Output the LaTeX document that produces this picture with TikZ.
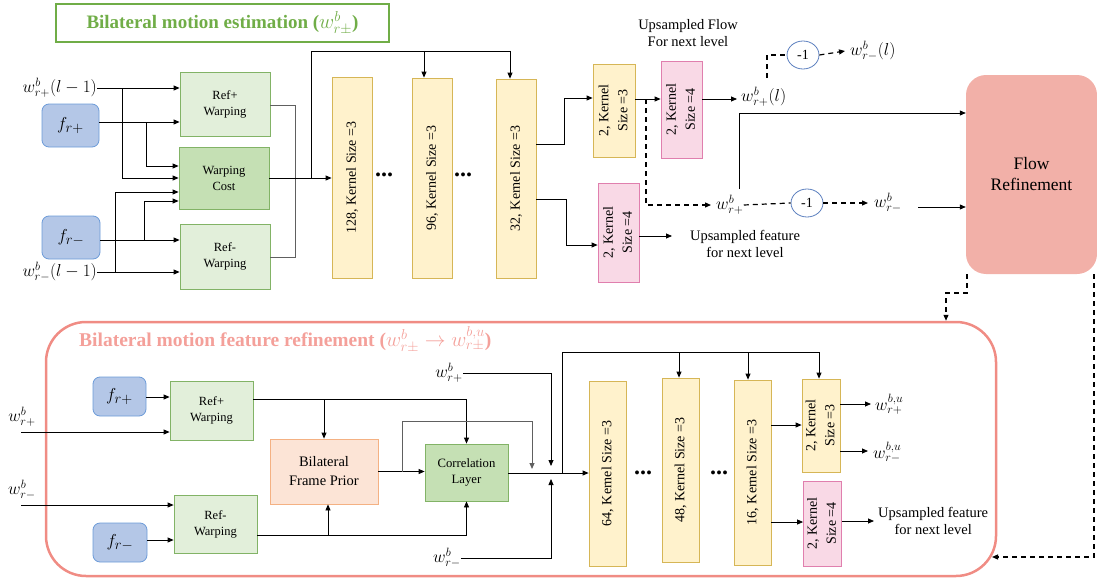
\documentclass[tikz,border=0pt]{standalone}
\usepackage{fontspec}
\setmainfont{Liberation Serif}
\usetikzlibrary{arrows.meta,shapes.geometric}
\definecolor{ttlgreen}{HTML}{70AD47}
\definecolor{blf}{HTML}{B4C7E7}
\definecolor{bld}{HTML}{6C9BD8}
\definecolor{lgf}{HTML}{E2EFDA}
\definecolor{lgd}{HTML}{82B366}
\definecolor{dgf}{HTML}{C5E0B4}
\definecolor{cvf}{HTML}{FFF2CC}
\definecolor{cvd}{HTML}{D6B656}
\definecolor{pkf}{HTML}{F9D9E6}
\definecolor{pkd}{HTML}{E07FAE}
\definecolor{frf}{HTML}{F2B0A8}
\definecolor{bff}{HTML}{FCE4D6}
\definecolor{bfd}{HTML}{F4B183}
\definecolor{rbox}{HTML}{F08C84}
\definecolor{rtxt}{HTML}{F4A09A}
\definecolor{cird}{HTML}{5B7FBF}
\definecolor{lgray}{HTML}{606060}
\newcommand\rottext[1]{\rotatebox{90}{\begin{tabular}{@{}c@{}}#1\end{tabular}}}
\newcommand\bigmath[1]{{\fontsize{20.5}{23}\selectfont$#1$}}
\begin{document}
\begin{tikzpicture}[x=1pt,y=-1pt,
  bx/.style={draw, line width=0.8pt, inner sep=0pt, align=center, font=\fontsize{12.5}{16}\selectfont},
  lgbox/.style={bx, draw=lgd, fill=lgf},
  dgbox/.style={bx, draw=lgd, fill=dgf},
  blbox/.style={bx, draw=bld, fill=blf, rounded corners=7pt, font=\fontsize{19}{21}\selectfont},
  cvbox/.style={bx, draw=cvd, fill=cvf, font=\fontsize{14}{19}\selectfont},
  pkbox/.style={bx, draw=pkd, fill=pkf, font=\fontsize{14}{19}\selectfont},
  mlab/.style={inner sep=0pt, font=\fontsize{17.5}{19}\selectfont},
  note/.style={inner sep=0pt, align=center, font=\fontsize{14.5}{17}\selectfont},
  arr/.style={-{Triangle[length=6pt,width=5pt]}, line width=0.8pt},
  gline/.style={line width=1pt, draw=lgray},
  garr/.style={gline, -{Triangle[length=6pt,width=5pt]}},
  dsh/.style={line width=1.2pt, dash pattern=on 5pt off 4pt},
  dsharr/.style={dsh, -{Triangle[length=6pt,width=5pt]}},
  neg/.style={ellipse, draw=cird, line width=0.8pt, fill=white, minimum width=32pt, minimum height=28pt, inner sep=0pt, font=\fontsize{14}{16}\selectfont},
  dotnode/.style={inner sep=0pt, font=\fontsize{24}{26}\selectfont\bfseries},
]
\useasboundingbox (0,0) rectangle (1097,578);

% ---------------- top: bilateral motion estimation ----------------
\node[draw=ttlgreen, line width=1.2pt, minimum width=333pt, minimum height=38pt, text=ttlgreen, font=\fontsize{19}{22}\selectfont\bfseries] (t1) at (222.5,23) {Bilateral motion estimation (\bigmath{w^b_{r\pm}})};

\node[blbox, minimum width=57pt, minimum height=43pt] (fp1) at (70.5,125.5) {$f_{r+}$};
\node[blbox, minimum width=58pt, minimum height=43pt] (fm1) at (71,237.5) {$f_{r-}$};
\node[lgbox, minimum width=90pt, minimum height=64pt] (rp1) at (225,104) {Ref+\\Warping};
\node[dgbox, minimum width=90pt, minimum height=62pt] (wc) at (224,178) {Warping\\Cost};
\node[lgbox, minimum width=90pt, minimum height=65pt] (rm1) at (225,256.5) {Ref-\\Warping};
\node[mlab, anchor=east] (wl1) at (97,88) {$w^b_{r+}(l-1)$};
\node[mlab, anchor=east] (wl2) at (97,272) {$w^b_{r-}(l-1)$};

\draw[arr] (wl1.east) -- (rp1.west|-wl1.east);
\draw[arr] (fp1.east|-0,122) -- (rp1.west|-0,122);
\draw[arr] (146,122) |- (wc.west|-0,166);
\draw[arr] (122,88) |- (wc.west|-0,178);
\draw[arr] (fm1.east|-0,240) -- (rm1.west|-0,240);
\draw[arr] (144,240) |- (wc.west|-0,201);
\draw[arr] (wl2.east) -- (rm1.west|-wl2.east);
\draw[arr] (115,272) |- (wc.west|-0,192);
\draw[gline] (rp1.east|-0,105) -| (295,257) -- (rm1.east|-0,257);

\node[cvbox, minimum width=40pt, minimum height=201pt] (c128) at (352,177.5) {\rottext{128, Kernel Size =3}};
\node[cvbox, minimum width=40pt, minimum height=200pt] (c96) at (432,178) {\rottext{96, Kernel Size =3}};
\node[cvbox, minimum width=40pt, minimum height=199pt] (c32) at (516,178.5) {\rottext{32, Kernel Size =3}};
\node[dotnode] (d1) at (384,175) {...};
\node[dotnode] (d2) at (463,175) {...};

\draw[arr] (wc.east) -- (c128.west|-wc.east);
\draw (311,178) |- (510,51);
\draw[arr] (424,51) -- (c96.north-|424,0);
\draw[arr] (510,51) -- (c32.north-|510,0);

\node[cvbox, minimum width=42pt, minimum height=93pt] (k1) at (614,110.5) {\rottext{2, Kernel\\Size =3}};
\node[pkbox, minimum width=41pt, minimum height=97pt] (u1) at (681.5,109.5) {\rottext{2, Kernel\\Size =4}};
\node[pkbox, minimum width=41pt, minimum height=99pt] (u2) at (618.5,232.5) {\rottext{2, Kernel\\Size =4}};

\draw[arr] (c32.east|-0,144) -- (564,144) |- (k1.west|-0,98);
\draw[arr] (c32.east|-0,199) -- (566,199) |- (u2.west|-0,245);
\draw[arr] (k1.east|-0,99) -- (u1.west|-0,99);

\node[note] (n1) at (688,33) {Upsampled Flow\\For next level};
\node[note] (n2) at (745,244) {Upsampled feature\\for next level};
\draw[arr] (u2.east|-0,236) -- (672,236);

\node[mlab, anchor=west] (wpl) at (741,97) {$w^b_{r+}(l)$};
\draw[arr] (u1.east|-0,99) -- (737,99);
\node[neg] (c1) at (803,55) {-1};
\node[mlab, anchor=west] (wml) at (850,51) {$w^b_{r-}(l)$};
\draw[dsh] (767,78) |- (c1.west);
\draw[dsharr] (c1.east) -- ([xshift=-5pt]wml.west);

\node[mlab, anchor=west] (wp2) at (716,205) {$w^b_{r+}$};
\node[neg] (c2) at (807,203) {-1};
\node[mlab, anchor=west] (wm2) at (874,203) {$w^b_{r-}$};
\draw[dsharr] (646,99) |- ([xshift=-5pt]wp2.west);
\draw[dsh] (wp2.east) -- (c2.west);
\draw[dsharr] (c2.east) -- ([xshift=-6pt]wm2.west);

\node[fill=frf, rounded corners=20pt, minimum width=131pt, minimum height=199pt, align=center, inner sep=0pt, font=\fontsize{17.5}{21}\selectfont] (fr) at (1031.5,174.5) {Flow\\Refinement};
\draw[arr] (739,189) |- (fr.west|-0,113);
\draw[arr] (918,207) -- (fr.west|-0,207);

% ---------------- bottom: bilateral motion feature refinement ----------------
\node[draw=rbox, line width=2.5pt, rounded corners=40pt, minimum width=950pt, minimum height=254pt, inner sep=0pt] (bb) at (521,449) {};
\node[text=rtxt, font=\fontsize{19.5}{22}\selectfont\bfseries, anchor=west, inner sep=0pt] (t2) at (79,340) {Bilateral motion feature refinement (\bigmath{w^b_{r\pm}\to w^{b,u}_{r\pm}})};

\draw[dsharr] (fr.south-|967,0) |- (946,293) -- (bb.north-|946,0);
\draw[dsharr] (fr.south-|1094,0) -- (1094,557) -- (992,557);

\node[blbox, minimum width=53pt, minimum height=39pt] (fp2) at (119.5,396.5) {$f_{r+}$};
\node[blbox, minimum width=54pt, minimum height=39pt] (fm2) at (120,542.5) {$f_{r-}$};
\node[lgbox, minimum width=83pt, minimum height=59pt] (rp2) at (211.5,410.5) {Ref+\\Warping};
\node[lgbox, minimum width=83pt, minimum height=58pt] (rm2) at (215.5,524) {Ref-\\Warping};
\node[bx, draw=bfd, fill=bff, minimum width=108pt, minimum height=65pt, font=\fontsize{14.5}{19}\selectfont] (bfp) at (324,471.5) {Bilateral\\Frame Prior};
\node[dgbox, minimum width=83pt, minimum height=57pt, font=\fontsize{12.7}{16}\selectfont] (cl) at (466.5,472.5) {Correlation\\Layer};

\node[mlab] (wp3) at (22,417) {$w^b_{r+}$};
\node[mlab] (wm3) at (22,490) {$w^b_{r-}$};
\draw[arr] (21,432) -- (rp2.west|-0,432);
\draw[arr] (21,505) -- (rm2.west|-0,505);
\draw[arr] (fp2.east|-0,397) -- (rp2.west|-0,397);
\draw[arr] (fm2.east|-0,540) -- (rm2.west|-0,540);
\draw[arr] (rp2.east|-0,399) -| (cl.north);
\draw[arr] (324,399) -- (bfp.north);
\draw[arr] (rm2.east|-0,535) -| (cl.south);
\draw[arr] (328,535) -- (bfp.south-|328,0);
\draw[arr] (bfp.east) -- (cl.west|-bfp.east);
\draw[garr] (402,471.5) |- (532,421) -- (532,469);

\node[cvbox, minimum width=37pt, minimum height=185pt] (c64) at (607.5,473.5) {\rottext{64, Kernel Size =3}};
\node[cvbox, minimum width=37pt, minimum height=184pt] (c48) at (680.5,470) {\rottext{48, Kernel Size =3}};
\node[cvbox, minimum width=37pt, minimum height=185pt] (c16) at (752.5,472.5) {\rottext{16, Kernel Size =3}};
\node[dotnode] (d3) at (643,473) {...};
\node[dotnode] (d4) at (719,473) {...};

\draw[arr] (cl.east|-0,473) -- (c64.west|-0,473);
\node[mlab] (wp4) at (449,373) {$w^b_{r+}$};
\node[mlab] (wm4) at (447,558) {$w^b_{r-}$};
\draw[arr] (wp4.east) -| (551,466);
\draw[arr] (wm4.east) -| (551,479);

\draw (562,473) |- (819,352);
\draw[arr] (679,352) -- (c48.north-|679,0);
\draw[arr] (748,352) -- (c16.north-|748,0);

\node[cvbox, minimum width=38pt, minimum height=93pt] (k2) at (821,425.5) {\rottext{2, Kernel\\Size =3}};
\node[pkbox, minimum width=37pt, minimum height=85pt] (u3) at (822.5,523.5) {\rottext{2, Kernel\\Size =4}};
\draw[arr] (819,352) -- (k2.north-|819,0);
\draw[arr] (c16.east|-0,425) -- (k2.west|-0,425);
\draw[arr] (c16.east|-0,522) -- (u3.west|-0,522);

\node[mlab, anchor=west] (wu1) at (875,404) {$w^{b,u}_{r+}$};
\node[mlab, anchor=west] (wu2) at (873,452) {$w^{b,u}_{r-}$};
\node[note, anchor=west] (n3) at (878,521) {Upsampled feature\\for next level};
\draw[arr] (k2.east|-0,404) -- ([xshift=-4pt]wu1.west|-0,404);
\draw[arr] (k2.east|-0,451) -- ([xshift=-5pt]wu2.west|-0,451);
\draw[arr] (u3.east|-0,521) -- ([xshift=-4pt]n3.west);
\end{tikzpicture}
\end{document}
